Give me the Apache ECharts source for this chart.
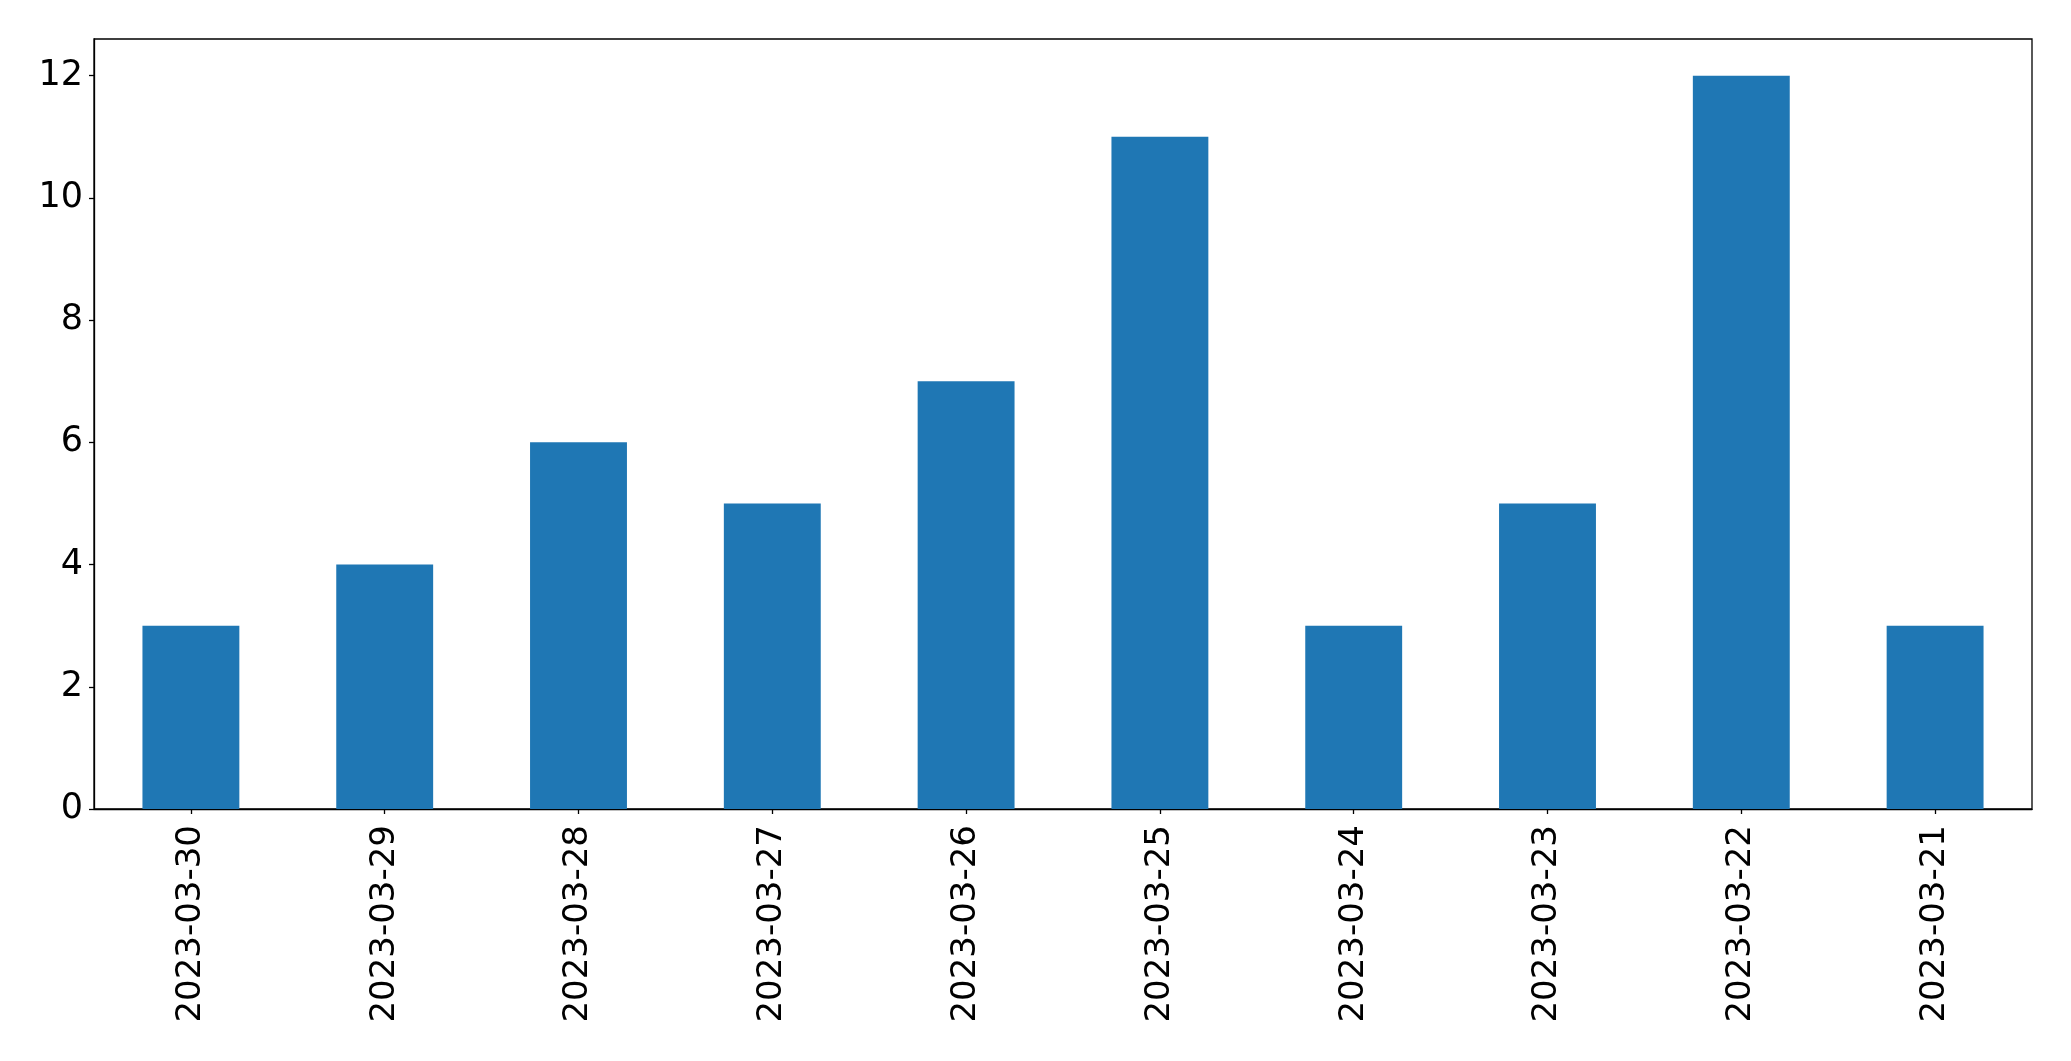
<!DOCTYPE html>
<html>
<head>
<meta charset="utf-8">
<script src="https://cdn.jsdelivr.net/npm/echarts@6/dist/echarts.min.js"></script>
<style>
html,body{margin:0;padding:0;background:#fff;}
#c{width:2071px;height:1061px;}
</style>
</head>
<body>
<div id="c"></div>
<script>
const categories = ['2023-03-30','2023-03-29','2023-03-28','2023-03-27','2023-03-26','2023-03-25','2023-03-24','2023-03-23','2023-03-22','2023-03-21'];
const values = [3, 4, 6, 5, 7, 11, 3, 5, 12, 3];
const yTicks = [0, 2, 4, 6, 8, 10, 12];

const chart = echarts.init(document.getElementById('c'), null, {renderer: 'canvas'});
const font = 'DejaVu Sans';
chart.setOption({
  animation: false,
  backgroundColor: '#ffffff',
  grid: {
    left: 94, right: 39, top: 39, bottom: 252,
    show: true, borderColor: '#000', borderWidth: 1.3, backgroundColor: 'transparent'
  },
  xAxis: {
    type: 'category',
    data: categories,
    boundaryGap: true,
    axisLine: {show: true, lineStyle: {color: '#000', width: 1.3}},
    axisTick: {show: true, alignWithLabel: true, length: 5, lineStyle: {color: '#000', width: 1.3}},
    axisLabel: {rotate: 90, margin: 16, color: '#000', fontFamily: font, fontSize: 34, interval: 0},
    splitLine: {show: false}
  },
  yAxis: {
    type: 'value',
    min: 0, max: 12.6, interval: 2,
    axisLine: {show: true, lineStyle: {color: '#000', width: 1.3}},
    axisTick: {show: true, length: 5, lineStyle: {color: '#000', width: 1.3}, customValues: yTicks},
    axisLabel: {color: '#000', fontFamily: font, fontSize: 35, margin: 11, padding: [6, 0, 0, 0], customValues: yTicks},
    splitLine: {show: false}
  },
  series: [{
    type: 'bar',
    data: values,
    barWidth: '50%',
    itemStyle: {color: '#1f77b4'}
  }]
});
</script>
</body>
</html>
